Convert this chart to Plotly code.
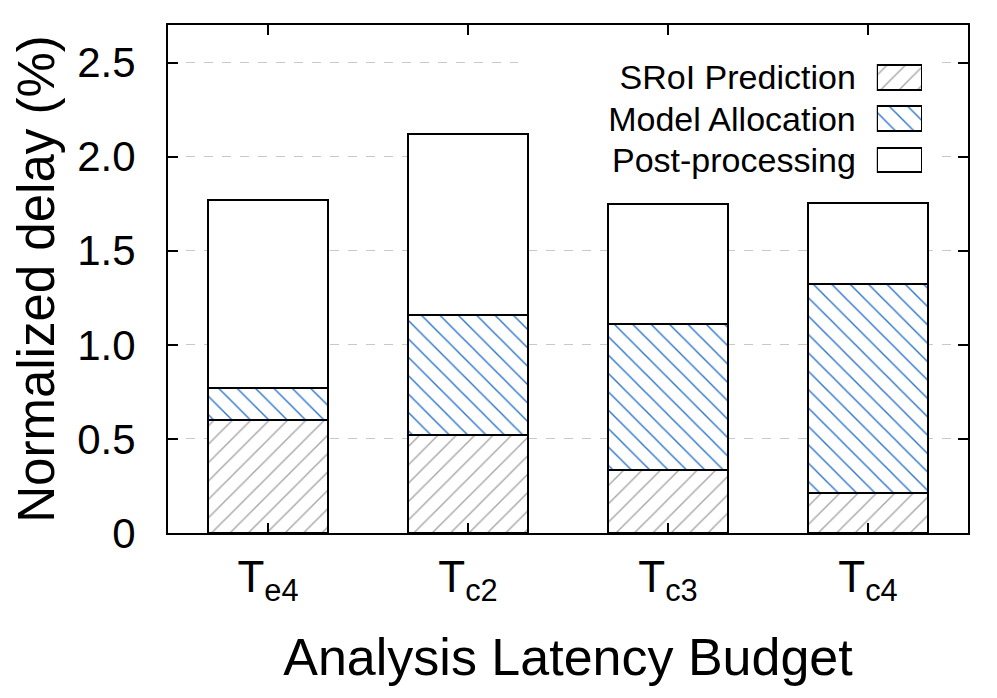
import plotly.graph_objects as go

# budgets on the x axis (T with subscript)
budgets = ['T<sub>e4</sub>', 'T<sub>c2</sub>', 'T<sub>c3</sub>', 'T<sub>c4</sub>']

# normalized delay components (%)
sroi_pred = [0.60, 0.52, 0.335, 0.21]
model_alloc = [0.17, 0.64, 0.775, 1.115]
post_proc = [1.00, 0.96, 0.64, 0.43]

series_names = ['SRoI Prediction', 'Model Allocation', 'Post-processing']

y_ticks = [0, 0.5, 1.0, 1.5, 2.0, 2.5]
y_ticktext = ['0', '0.5', '1.0', '1.5', '2.0', '2.5']

font = 'Liberation Sans, Arial, sans-serif'
outline = dict(color='black', width=2)
patterns = [
    dict(shape='/', fgcolor='#a8a8a8', bgcolor='white', fgopacity=1, size=13, solidity=0.11),
    dict(shape='\\', fgcolor='#2f78cc', bgcolor='white', fgopacity=1, size=13, solidity=0.11),
    dict(shape='', bgcolor='white'),
]

fig = go.Figure()
for name, vals, pat in zip(series_names, [sroi_pred, model_alloc, post_proc], patterns):
    fig.add_trace(go.Bar(
        x=budgets, y=vals, name=name, showlegend=False,
        marker=dict(color='white', line=outline, pattern=pat),
    ))

# key drawn as a small inset axis: swatches on the right, names as tick labels
for name, pat in zip(series_names, patterns):
    fig.add_trace(go.Bar(
        x=[1], y=[name], orientation='h', xaxis='x2', yaxis='y2',
        showlegend=False, hoverinfo='skip',
        marker=dict(color='white', line=outline, pattern=pat),
    ))

axis_common = dict(
    showline=True, linecolor='black', linewidth=2, mirror='ticks',
    ticks='inside', ticklen=10, tickcolor='black', tickwidth=1.5,
    automargin=False,
)

# page body adds 8px offset, so the figure is 8px smaller than the window
fig.update_layout(
    width=989, height=690,
    barmode='stack', bargap=0.4,
    plot_bgcolor='white', paper_bgcolor='white',
    margin=dict(l=160, r=29, t=17, b=165),
    font=dict(family=font, color='black', size=36),
    showlegend=False,
    xaxis=dict(
        range=[-0.5, 3.5], tickfont=dict(size=44), ticklabelstandoff=4,
        title=dict(text='Analysis Latency Budget', font=dict(size=52), standoff=32),
        **axis_common,
    ),
    yaxis=dict(
        range=[0, 2.7], tickvals=y_ticks, ticktext=y_ticktext,
        tickfont=dict(size=42), ticklabelstandoff=22,
        showgrid=True, gridcolor='#c8c8c8', griddash='dash', gridwidth=1,
        zeroline=False,
        title=dict(text='Normalized delay (%)', font=dict(size=51), standoff=22),
        **axis_common,
    ),
    xaxis2=dict(domain=[0.886, 0.9425], anchor='y2', range=[0, 1], visible=False),
    yaxis2=dict(domain=[0.694, 0.937], anchor='x2', autorange='reversed',
                showline=False, showgrid=False, zeroline=False, ticks='',
                tickfont=dict(size=34), ticklabelstandoff=20, automargin=False),
    # opaque key box hiding the grid behind it
    shapes=[dict(type='rect', xref='x', yref='y', x0=1.25, x1=3.36, y0=1.85, y1=2.54,
                 fillcolor='white', line=dict(width=0), layer='between')],
)

fig.write_html('out.html')
